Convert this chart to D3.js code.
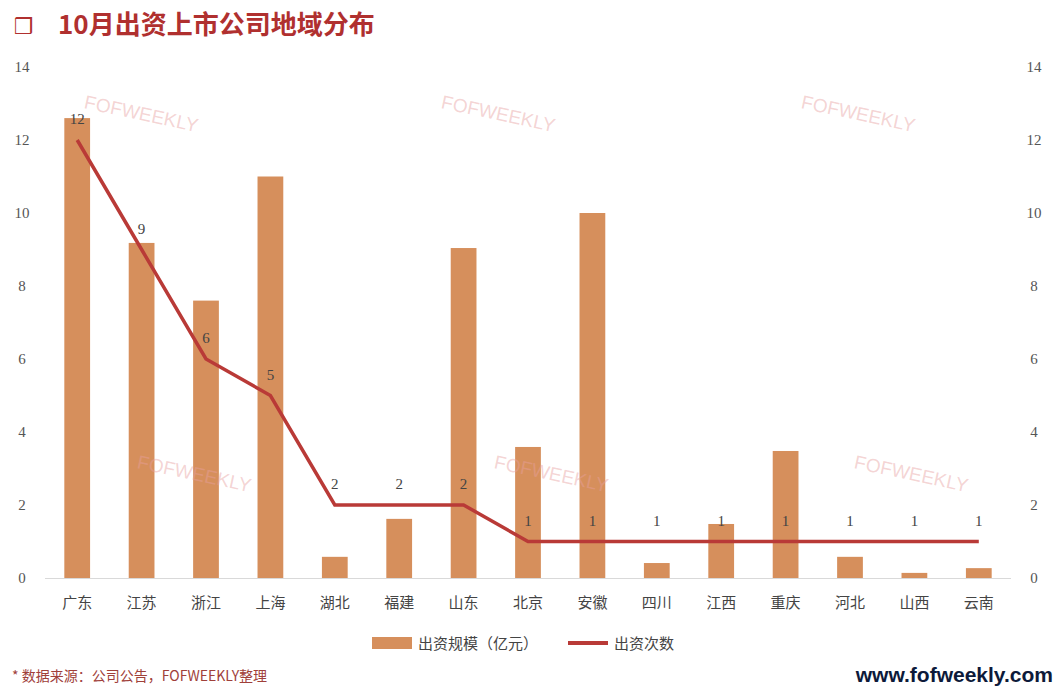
<!DOCTYPE html>
<html><head><meta charset="utf-8">
<script src="https://cdn.jsdelivr.net/npm/d3@7"></script>
<style>body{margin:0;background:#fff;}</style>
</head><body>
<svg id="c" width="1058" height="686"></svg>
<script>
var categories = ["广东","江苏","浙江","上海","湖北","福建","山东","北京","安徽","四川","江西","重庆","河北","山西","云南"];
var amounts = [12.6,9.18,7.6,11.0,0.58,1.62,9.04,3.59,10.0,0.41,1.48,3.48,0.58,0.14,0.27];
var counts = [12,9,6,5,2,2,2,1,1,1,1,1,1,1,1];
var yTicks = [0,2,4,6,8,10,12,14];
var watermarks = [[140,120],[497,120],[857,120],[193,480],[550,480],[910,480]];

var svg = d3.select("#c");
var serif = "'Liberation Serif','Times New Roman',serif";
var plotLeft = 45, plotRight = 1011, plotTop = 67, plotBottom = 578;

var x = d3.scaleBand().domain(categories).range([plotLeft, plotRight]).paddingInner(0.6).paddingOuter(0.3);
var y = d3.scaleLinear().domain([0, 14]).range([plotBottom, plotTop]);

// title
svg.append("text").attr("x", 14).attr("y", 34).attr("font-size", 22).attr("fill", "#b0302f")
    .attr("font-family", "'DejaVu Sans',sans-serif").text("❒");
svg.append("text").attr("x", 58).attr("y", 34).attr("font-size", 26).attr("font-weight", "bold")
    .attr("fill", "#b0302f").attr("font-family", "'Noto Sans CJK SC',serif").text("10月出资上市公司地域分布");

// axes labels
svg.selectAll("text.yl").data(yTicks).enter().append("text").attr("class", "yl")
    .attr("x", 22).attr("y", function(d) { return y(d) + 5; }).attr("text-anchor", "middle")
    .attr("font-family", serif).attr("font-size", 15).attr("fill", "#555").text(function(d) { return d; });
svg.selectAll("text.yr").data(yTicks).enter().append("text").attr("class", "yr")
    .attr("x", 1034).attr("y", function(d) { return y(d) + 5; }).attr("text-anchor", "middle")
    .attr("font-family", serif).attr("font-size", 15).attr("fill", "#555").text(function(d) { return d; });

// bars
svg.selectAll("rect.bar").data(amounts).enter().append("rect").attr("class", "bar")
    .attr("x", function(d, i) { return x(categories[i]); })
    .attr("width", x.bandwidth())
    .attr("y", function(d) { return y(d); })
    .attr("height", function(d) { return plotBottom - y(d); })
    .attr("fill", "#d68f5c");

svg.append("line").attr("x1", plotLeft).attr("x2", plotRight).attr("y1", plotBottom + 0.5).attr("y2", plotBottom + 0.5)
    .attr("stroke", "#d9d9d9");

// watermarks (semi-transparent, on top of bars)
svg.selectAll("text.wm").data(watermarks).enter().append("text").attr("class", "wm")
    .attr("transform", function(d) { return "translate(" + d[0] + "," + d[1] + ") rotate(12)"; })
    .attr("text-anchor", "middle").attr("font-family", "'Liberation Sans',Arial,sans-serif")
    .attr("font-size", 19).attr("fill", "#e8a0a0").attr("fill-opacity", 0.45).text("FOFWEEKLY");

// category labels
svg.selectAll("text.cat").data(categories).enter().append("text").attr("class", "cat")
    .attr("x", function(d) { return x(d) + x.bandwidth() / 2; }).attr("y", 608)
    .attr("text-anchor", "middle").attr("font-family", "'Noto Sans CJK SC',sans-serif")
    .attr("font-size", 15).attr("fill", "#444").text(function(d) { return d; });

// line
var cx = function(i) { return x(categories[i]) + x.bandwidth() / 2; };
var line = d3.line().x(function(d, i) { return cx(i); }).y(function(d) { return y(d); });
svg.append("path").datum(counts).attr("d", line).attr("fill", "none")
    .attr("stroke", "#b93a37").attr("stroke-width", 3.5);

svg.selectAll("text.cnt").data(counts).enter().append("text").attr("class", "cnt")
    .attr("x", function(d, i) { return cx(i); }).attr("y", function(d) { return y(d) - 16; })
    .attr("text-anchor", "middle").attr("font-family", serif).attr("font-size", 15).attr("fill", "#444")
    .text(function(d) { return d; });

// legend
svg.append("rect").attr("x", 372).attr("y", 637).attr("width", 40).attr("height", 12).attr("fill", "#d68f5c");
svg.append("text").attr("x", 418).attr("y", 649).attr("font-family", "'Noto Sans CJK SC',sans-serif")
    .attr("font-size", 15).attr("fill", "#444").text("出资规模（亿元）");
svg.append("line").attr("x1", 568).attr("x2", 608).attr("y1", 643).attr("y2", 643)
    .attr("stroke", "#b93a37").attr("stroke-width", 4);
svg.append("text").attr("x", 614).attr("y", 649).attr("font-family", "'Noto Sans CJK SC',sans-serif")
    .attr("font-size", 15).attr("fill", "#444").text("出资次数");

// footer
svg.append("text").attr("x", 12).attr("y", 681).attr("font-family", "'Noto Sans CJK SC',serif")
    .attr("font-size", 14).attr("fill", "#a0403a").text("*  数据来源：公司公告，FOFWEEKLY整理");
svg.append("text").attr("x", 1053).attr("y", 682).attr("text-anchor", "end")
    .attr("font-family", "'Liberation Sans',Arial,sans-serif").attr("font-weight", "bold")
    .attr("font-size", 21).attr("fill", "#0d1a3a").text("www.fofweekly.com");
</script>
</body></html>
